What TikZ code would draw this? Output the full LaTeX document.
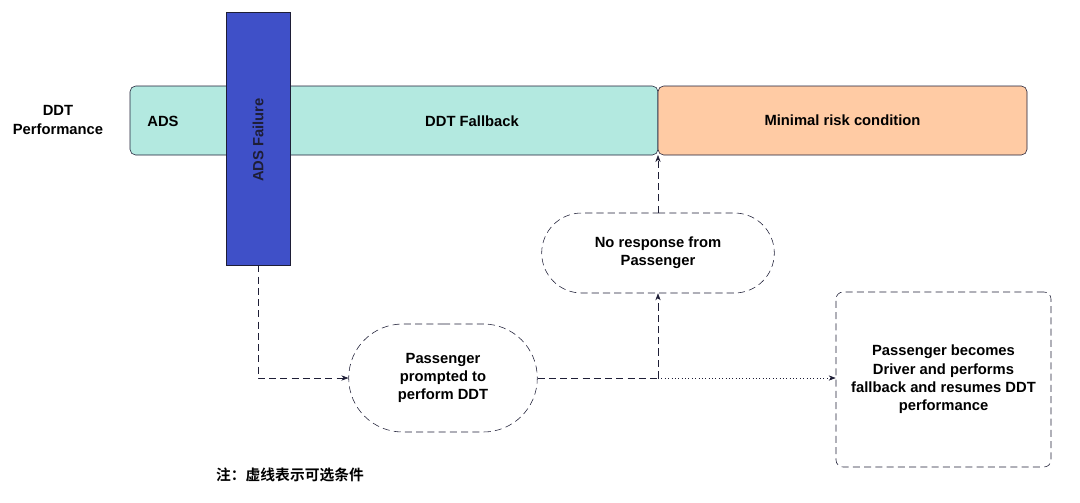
\documentclass[tikz,border=0pt]{standalone}
\usepackage{fontspec}
\setmainfont{Liberation Sans}
\newfontfamily\cjk{Noto Sans CJK SC}[BoldFont={Noto Sans CJK SC Bold}]
\usetikzlibrary{positioning,shapes.misc,arrows.meta}
\definecolor{tealfill}{HTML}{B3E9E0}
\definecolor{orgfill}{HTML}{FFCBA4}
\definecolor{bluefill}{HTML}{3F50C8}
\definecolor{edge}{HTML}{1E1E36}
\tikzset{
  lbl/.style={font=\fontsize{10.5}{13}\selectfont\bfseries,align=center,text=black},
  bar/.style={draw=edge,rounded corners=4pt,minimum height=69*0.025cm,inner sep=0pt},
  opt/.style={draw=edge,dashed,dash pattern=on 5pt off 3pt,rounded rectangle,lbl,fill=white},
  link/.style={draw=edge,dash pattern=on 5pt off 3pt,-{Stealth[length=5pt]}},
  dotlink/.style={draw=edge,dotted,-{Stealth[length=5pt]}}
}
\begin{document}
\begin{tikzpicture}[x=0.025cm,y=-0.025cm]
    \useasboundingbox (0,0) rectangle (1080,502);
    % row of states
    \node[lbl] (perf) at (58,120) {DDT\\Performance};
    \node[bar,fill=tealfill,minimum width=528*0.025cm] (fb) at (394,120.5) {};
    \node[bar,fill=orgfill,minimum width=369*0.025cm] (mrc) at (842.5,120.5) {};
    \node[lbl] (ads) at (163,121) {ADS};
    \node[lbl] (fbtxt) at (472,121) {DDT Fallback};
    \node[lbl] at (mrc) {Minimal risk condition};
    \node[draw=edge,fill=bluefill,minimum width=64*0.025cm,minimum height=253*0.025cm,inner sep=0pt] (fail) at (258,138.5) {};
    \node[lbl,rotate=90,text=edge] at (258,140) {ADS Failure};
    % optional path
    \node[opt,minimum width=242*0.025cm,minimum height=80*0.025cm] (nores) at (658,253) {No response from\\Passenger};
    \node[opt,minimum width=198*0.025cm,minimum height=108*0.025cm] (prompt) at (443,378) {Passenger\\prompted to\\perform DDT};
    \node[draw=edge,dash pattern=on 5pt off 3pt,rounded corners=5pt,lbl,minimum width=215*0.025cm,minimum height=175*0.025cm] (drv) at (943.5,379.5) {Passenger becomes\\Driver and performs\\fallback and resumes DDT\\performance};
    \coordinate (split) at (658,378);
    \draw[link] (fail.south) |- (prompt.west);
    \draw[draw=edge,dash pattern=on 5pt off 3pt] (prompt.east) -- (split);
    \draw[link] (split) -- (nores.south);
    \draw[link] (nores.north) -- (658,155);
    \draw[dotlink] (split) -- (split -| drv.west);
    \node[font=\cjk\fontsize{10.5}{13}\selectfont\bfseries] (note) at (290,475) {注：虚线表示可选条件};
\end{tikzpicture}
\end{document}
